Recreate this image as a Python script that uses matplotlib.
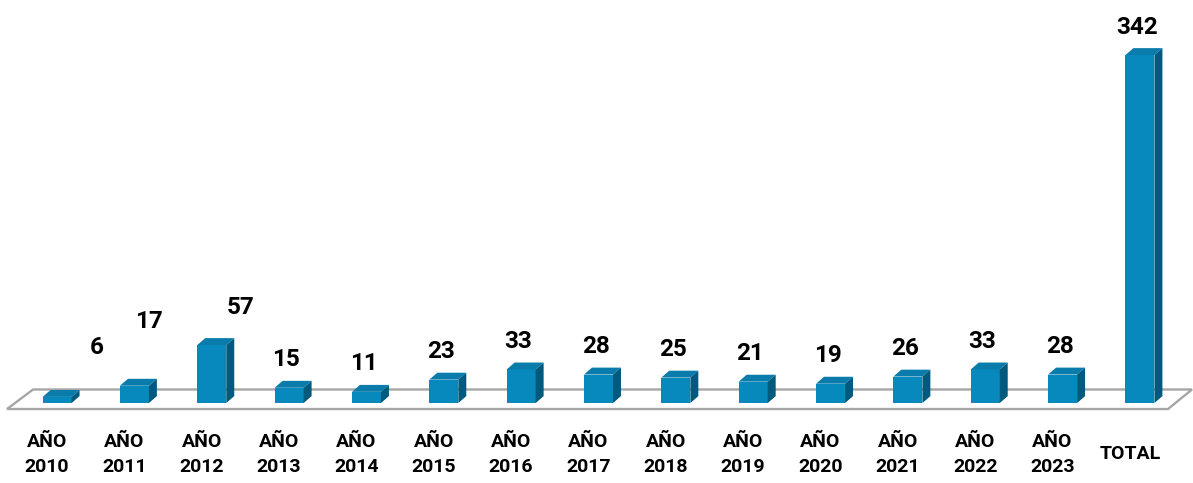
import matplotlib
matplotlib.use("Agg")
import matplotlib.pyplot as plt
from matplotlib.patches import Polygon

# ---- data ----
categories = ["AÑO\n2010", "AÑO\n2011", "AÑO\n2012", "AÑO\n2013", "AÑO\n2014",
              "AÑO\n2015", "AÑO\n2016", "AÑO\n2017", "AÑO\n2018", "AÑO\n2019",
              "AÑO\n2020", "AÑO\n2021", "AÑO\n2022", "AÑO\n2023", "TOTAL"]
values = [6, 17, 57, 15, 11, 23, 33, 28, 25, 21, 19, 26, 33, 28, 342]

# extra label offsets (pixels) for manually moved labels
label_extra = [(43, 21), (18, 36), (32, 10)] + [(0, 0)] * 12

# ---- style ----
FRONT = "#0789bd"
TOP = "#0a7cab"
SIDE = "#005a7e"
FLOOR_EDGE = "#a6a6a6"
FONT = ["Roboto", "DejaVu Sans"]

W, H, DPI = 1193, 483, 100
fig = plt.figure(figsize=(W / DPI, H / DPI), dpi=DPI)
ax = fig.add_axes([0, 0, 1, 1])
ax.set_xlim(-0.608, 14.816)
ax.set_ylim(-78.6, 396.1)
ax.axis("off")

bar_off = 0.13     # bar front shifted right of category label
bw = 0.375         # front face width
ddx = 0.103        # depth in x (data units)
ddy = 6.8          # depth in y (data units)

# floor
n = len(values)
floor = Polygon([(-0.517, -5.9), (n - 1 + 0.493, -5.9),
                 (n - 1 + 0.803, 13.3), (-0.181, 13.3)],
                closed=True, facecolor="white", edgecolor=FLOOR_EDGE,
                linewidth=1.7, zorder=1)
ax.add_patch(floor)

xs = [i + bar_off for i in range(n)]
ax.bar(xs, values, width=bw, bottom=0, color=FRONT, zorder=3, linewidth=0)
for x, v in zip(xs, values):
    x0, x1 = x - bw / 2, x + bw / 2
    ax.add_patch(Polygon([(x0, v), (x1, v), (x1 + ddx, v + ddy), (x0 + ddx, v + ddy)],
                         closed=True, facecolor=TOP, edgecolor="none", zorder=3))
    ax.add_patch(Polygon([(x1, 0), (x1 + ddx, ddy), (x1 + ddx, v + ddy), (x1, v)],
                         closed=True, facecolor=SIDE, edgecolor="none", zorder=3))

# value labels
for x, v, (ex, ey) in zip(xs, values, label_extra):
    ax.annotate(str(v), xy=(x, v), xytext=((-3 + ex) * 0.72, (28 + ey) * 0.72),
                textcoords="offset points", ha="center", va="center",
                fontsize=17.5, fontweight="bold", family=FONT, color="black", zorder=5)

# category labels
for i, c in enumerate(categories):
    ax.text(i, -50.5, c, ha="center", va="center", fontsize=14, fontweight="bold",
            family=FONT, color="black", linespacing=1.5)

fig.savefig("out.png", dpi=DPI)
